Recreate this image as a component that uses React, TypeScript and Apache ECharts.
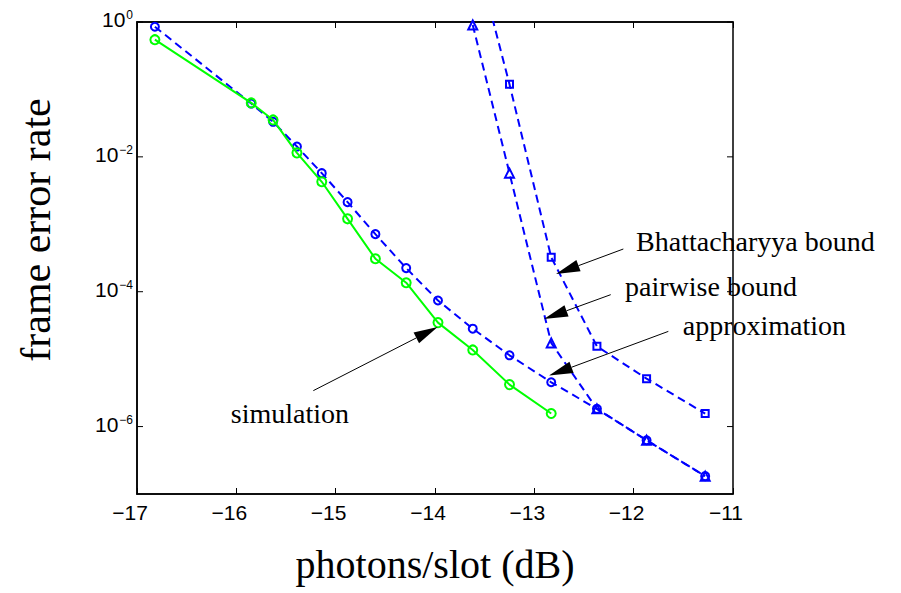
import { useEffect, useRef } from 'react';
import * as echarts from 'echarts';

// Signal level per slot, in dB, for each evaluated operating point
const photonsDb = [
  -16.82, -15.85, -15.63, -15.39, -15.14, -14.88, -14.6, -14.29, -13.97, -13.62,
  -13.25, -12.83, -12.37, -11.87, -11.28,
];

// Frame error rate from Monte-Carlo simulation (first 12 operating points)
const simulation = [
  0.547, 0.0631, 0.0353, 0.01146, 0.00427, 0.001205, 3.08e-4, 1.36e-4, 3.48e-5,
  1.37e-5, 4.19e-6, 1.56e-6,
];

// Analytical approximation (all operating points)
const approximation = [
  0.851, 0.0617, 0.0331, 0.01422, 0.00573, 0.00213, 7.14e-4, 2.24e-4, 7.41e-5,
  2.83e-5, 1.14e-5, 4.54e-6, 1.83e-6, 6.27e-7, 1.84e-7,
];

// Union bounds, evaluated from the 10th operating point on
const boundDb = photonsDb.slice(9);
const pairwiseBound = [0.904, 0.00573, 1.74e-5, 1.83e-6, 6.27e-7, 1.84e-7];
const bhattacharyyaBound = [15, 0.119, 3.24e-4, 1.55e-5, 5.14e-6, 1.56e-6];

const xTicks = { min: -17, max: -11, step: 1 };
const yDecadeTicks = [1, 1e-2, 1e-4, 1e-6];

// Callouts: label anchor, arrow tail and arrow tip, all in data coordinates
const callouts = [
  { label: 'Bhattacharyya bound', at: [-11.976, 5.51e-4], align: 'left', tail: [-12.104, 4.3e-4], tip: [-12.782, 1.83e-4] },
  { label: 'pairwise bound', at: [-12.087, 1.2e-4], align: 'left', tail: [-12.231, 9.04e-5], tip: [-12.903, 3.94e-5] },
  { label: 'approximation', at: [-11.506, 3.13e-5], align: 'left', tail: [-11.651, 2.58e-5], tip: [-12.852, 5.7e-6] },
  { label: 'simulation', at: [-15.46, 1.56e-6], align: 'center', tail: [-15.225, 3.41e-6], tip: [-13.973, 3.0e-5] },
];

const BLUE = '#0000ff';
const GREEN = '#00ff00';
const SANS = '"Liberation Sans", Arial, sans-serif';
const SERIF = '"Liberation Serif", "Times New Roman", serif';

const pair = (xs: number[], ys: number[]) => ys.map((y, i) => [xs[i], y]);

const minus = (v: number) => (v < 0 ? '\u2212' + Math.abs(v) : String(v));

export default function App() {
  const ref = useRef<HTMLDivElement>(null);

  useEffect(() => {
    const el = ref.current;
    if (!el) return;
    const chart = echarts.init(el, undefined, { renderer: 'svg' });

    const dashed = { type: [8, 5], width: 2, color: BLUE };
    const hollow = (c: string) => ({ color: 'transparent', borderColor: c, borderWidth: 2 });

    const xAxisBase = {
      type: 'value',
      min: xTicks.min,
      max: xTicks.max,
      interval: xTicks.step,
      splitLine: { show: false },
      axisLine: { show: true, lineStyle: { color: '#000', width: 1.5 } },
      axisTick: { show: true, inside: true, length: 6, lineStyle: { color: '#000', width: 1 } },
    };

    chart.setOption({
      animation: false,
      backgroundColor: '#fff',
      grid: {
        left: 137, right: 168, top: 22, bottom: 99,
        show: true, borderColor: '#000', borderWidth: 1.5, backgroundColor: 'transparent',
      },
      xAxis: [
        {
          ...xAxisBase,
          position: 'bottom',
          name: 'photons/slot (dB)',
          nameLocation: 'middle',
          nameGap: 50,
          nameTextStyle: { fontFamily: SERIF, fontSize: 40, color: '#000' },
          axisLabel: {
            margin: 8, color: '#000', fontFamily: SANS, fontSize: 21,
            padding: [0, 14, 0, 0],
            formatter: (v: number) => minus(v),
          },
        },
        {
          ...xAxisBase,
          position: 'top',
          axisLabel: { show: false },
        },
      ],
      yAxis: {
        type: 'log',
        logBase: 10,
        min: 1e-7,
        max: 1,
        interval: 1,
        splitLine: { show: false },
        axisLine: { show: true, lineStyle: { color: '#000', width: 1.5 } },
        axisTick: { show: false },
        name: 'frame error rate',
        nameLocation: 'middle',
        nameGap: 80,
        nameTextStyle: { fontFamily: SERIF, fontSize: 42, color: '#000', padding: [0, 0, 0, 56] },
        axisLabel: {
          margin: 4,
          padding: [0, 0, 5, 0],
          formatter: (v: number) => {
            const e = Math.round(Math.log10(v));
            if (e % 2 !== 0) return '';
            return `{b|10}{e|${minus(e)}}`;
          },
          rich: {
            b: { fontFamily: SANS, fontSize: 21, color: '#000', verticalAlign: 'bottom', lineHeight: 21 },
            e: { fontFamily: SANS, fontSize: 12, color: '#000', verticalAlign: 'top', lineHeight: 12, padding: [0, 0, 14, 1] },
          },
        },
      },
      series: [
        {
          name: 'Bhattacharyya bound',
          type: 'line',
          data: pair(boundDb, bhattacharyyaBound),
          symbol: 'rect',
          symbolSize: 7,
          lineStyle: dashed,
          itemStyle: hollow(BLUE),
          clip: true,
          z: 2,
        },
        {
          name: 'pairwise bound',
          type: 'line',
          data: pair(boundDb, pairwiseBound),
          symbol: 'triangle',
          symbolSize: 9,
          lineStyle: dashed,
          itemStyle: hollow(BLUE),
          clip: true,
          z: 2,
        },
        {
          name: 'approximation',
          type: 'line',
          data: pair(photonsDb, approximation),
          symbol: 'circle',
          symbolSize: 8,
          lineStyle: dashed,
          itemStyle: hollow(BLUE),
          clip: true,
          z: 3,
        },
        {
          name: 'simulation',
          type: 'line',
          data: pair(photonsDb, simulation),
          symbol: 'circle',
          symbolSize: 9,
          lineStyle: { type: 'solid', width: 2, color: GREEN },
          itemStyle: hollow(GREEN),
          clip: true,
          z: 4,
        },
      ],
    });

    const toPx = (p: number[]) => chart.convertToPixel({ gridIndex: 0 }, p) as number[];
    const graphics: any[] = [];

    // decade ticks on the left and right frame edges
    const left = toPx([xTicks.min, 1])[0];
    const right = toPx([xTicks.max, 1])[0];
    yDecadeTicks.forEach((v) => {
      const y = toPx([xTicks.min, v])[1];
      graphics.push(
        { type: 'line', shape: { x1: left, y1: y, x2: left + 6, y2: y }, style: { stroke: '#000', lineWidth: 1 } },
        { type: 'line', shape: { x1: right - 6, y1: y, x2: right, y2: y }, style: { stroke: '#000', lineWidth: 1 } },
      );
    });

    // annotation arrows and their labels
    const headLen = 24;
    const headHalf = 6;
    callouts.forEach((c) => {
      const [tx, ty] = toPx(c.tail);
      const [hx, hy] = toPx(c.tip);
      const dx = hx - tx;
      const dy = hy - ty;
      const len = Math.hypot(dx, dy);
      const ux = dx / len;
      const uy = dy / len;
      const bx = hx - ux * headLen;
      const by = hy - uy * headLen;
      graphics.push(
        { type: 'line', shape: { x1: tx, y1: ty, x2: bx, y2: by }, style: { stroke: '#000', lineWidth: 1 }, z: 10 },
        {
          type: 'polygon',
          shape: { points: [[hx, hy], [bx - uy * headHalf, by + ux * headHalf], [bx + uy * headHalf, by - ux * headHalf]] },
          style: { fill: '#000' },
          z: 10,
        },
      );
      const [lx, ly] = toPx(c.at);
      graphics.push({
        type: 'text',
        x: lx,
        y: ly,
        z: 10,
        style: { text: c.label, fill: '#000', fontFamily: SERIF, fontSize: 28, align: c.align, verticalAlign: 'middle' },
      });
    });

    chart.setOption({ graphic: graphics });

    return () => chart.dispose();
  }, []);

  return <div ref={ref} style={{ position: 'fixed', left: 0, top: 0, width: 901, height: 593 }} />;
}
